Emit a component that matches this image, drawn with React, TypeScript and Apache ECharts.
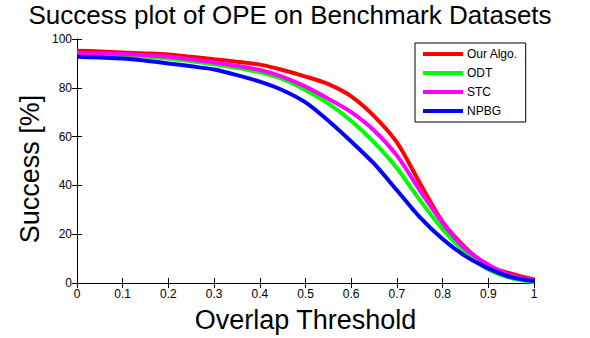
import React, { useEffect, useRef } from "react";
import * as echarts from "echarts";

const thresholds = [0, 0.05, 0.1, 0.15, 0.2, 0.25, 0.3, 0.35, 0.4, 0.45, 0.5, 0.55, 0.6, 0.65, 0.7, 0.75, 0.8, 0.85, 0.9, 0.95, 1];
const seriesNames = ["Our Algo.", "ODT", "STC", "NPBG"];
const ourAlgo = [95.2, 94.9, 94.5, 94.1, 93.6, 92.7, 91.7, 90.7, 89.5, 87.3, 84.6, 81.5, 76.5, 68.4, 57.6, 41, 25, 14.5, 7, 3.8, 1.5];
const odt = [93.5, 93.4, 93.3, 92.7, 92, 90.9, 89.6, 88.1, 86.3, 83.5, 79, 73.5, 66.4, 57.6, 47, 34, 22, 12.5, 5.5, 2, 0.3];
const stc = [94.3, 94.1, 93.9, 93.3, 92.7, 91.6, 90.4, 89, 87.3, 84.5, 80.5, 75.5, 70, 62.5, 52.2, 38, 24.5, 14, 7.5, 3.1, 1.3];
const npbg = [92.7, 92.4, 92, 91.1, 90, 88.8, 87.5, 85.2, 82.5, 79, 74, 66.5, 58, 48.9, 38, 27, 18, 11, 6, 2.4, 0.8];
const colors = ["#FF0000", "#00FF00", "#FF00FF", "#0000FF"];
const xTickLabels = ["0", "0.1", "0.2", "0.3", "0.4", "0.5", "0.6", "0.7", "0.8", "0.9", "1"];
const titleText = "Success plot of OPE on Benchmark Datasets";
const xName = "Overlap Threshold";
const yName = "Success [%]";

const FONT = "Liberation Sans, Arial, sans-serif";

export default function App() {
  const ref = useRef<HTMLDivElement>(null);
  useEffect(() => {
    document.body.style.margin = "0";
    const chart = echarts.init(ref.current!, undefined, { renderer: "svg" });
    const values = [ourAlgo, odt, stc, npbg];
    const tickAxisCommon = {
      type: "value" as const,
      axisLine: { show: true, lineStyle: { color: "#000", width: 1 } },
      axisTick: { show: true, inside: true, length: 5, lineStyle: { color: "#000" } },
      splitLine: { show: false },
    };
    chart.setOption({
      animation: false,
      backgroundColor: "#fff",
      title: {
        text: titleText,
        left: 290,
        textAlign: "center",
        top: 2,
        padding: 0,
        textStyle: { fontFamily: FONT, fontSize: 26, fontWeight: "normal", color: "#000" },
      },
      graphic: [
        {
          type: "text",
          x: 30,
          y: 169,
          rotation: Math.PI / 2,
          style: {
            text: yName,
            fontFamily: FONT,
            fontSize: 27,
            fill: "#000",
            align: "center",
            verticalAlign: "middle",
          },
        },
      ],
      legend: {
        orient: "vertical",
        left: 415,
        top: 43,
        padding: [4, 8, 4, 8],
        itemGap: 5,
        itemWidth: 40,
        itemHeight: 4,
        icon: "rect",
        borderColor: "#000",
        borderWidth: 1,
        backgroundColor: "#fff",
        data: seriesNames,
        textStyle: { fontFamily: FONT, fontSize: 12, color: "#000", lineHeight: 14, padding: [0, 0, 0, -1] },
      },
      grid: { left: 77, top: 39, width: 457, height: 247 },
      xAxis: [
        {
          ...tickAxisCommon,
          position: "bottom",
          min: 0,
          max: 1,
          interval: 0.1,
          name: xName,
          nameLocation: "middle",
          nameGap: 23,
          nameTextStyle: { fontFamily: FONT, fontSize: 27, color: "#000", verticalAlign: "top" },
          axisLabel: {
            fontFamily: FONT,
            fontSize: 12,
            color: "#000",
            margin: 5,
            formatter: (v: number) => xTickLabels[Math.round(v * 10)] ?? "",
          },
        },
        {
          ...tickAxisCommon,
          position: "top",
          min: 0,
          max: 1,
          interval: 0.1,
          axisLabel: { show: false },
        },
      ],
      yAxis: [
        {
          ...tickAxisCommon,
          position: "left",
          min: 0,
          max: 100,
          interval: 20,
          axisLabel: { fontFamily: FONT, fontSize: 12, color: "#000", margin: 5, padding: [3, 0, 0, 0] },
        },
        {
          ...tickAxisCommon,
          position: "right",
          min: 0,
          max: 100,
          interval: 20,
          axisLabel: { show: false },
        },
      ],
      series: seriesNames.map((name, i) => ({
        name,
        type: "line",
        xAxisIndex: 0,
        yAxisIndex: 0,
        data: thresholds.map((t, j) => [t, values[i][j]]),
        showSymbol: false,
        symbol: "none",
        smooth: 0.3,
        lineStyle: { color: colors[i], width: 4 },
        itemStyle: { color: colors[i] },
      })),
    });
    return () => chart.dispose();
  }, []);
  return <div ref={ref} style={{ position: "absolute", left: 0, top: 0, width: 590, height: 338 }} />;
}
